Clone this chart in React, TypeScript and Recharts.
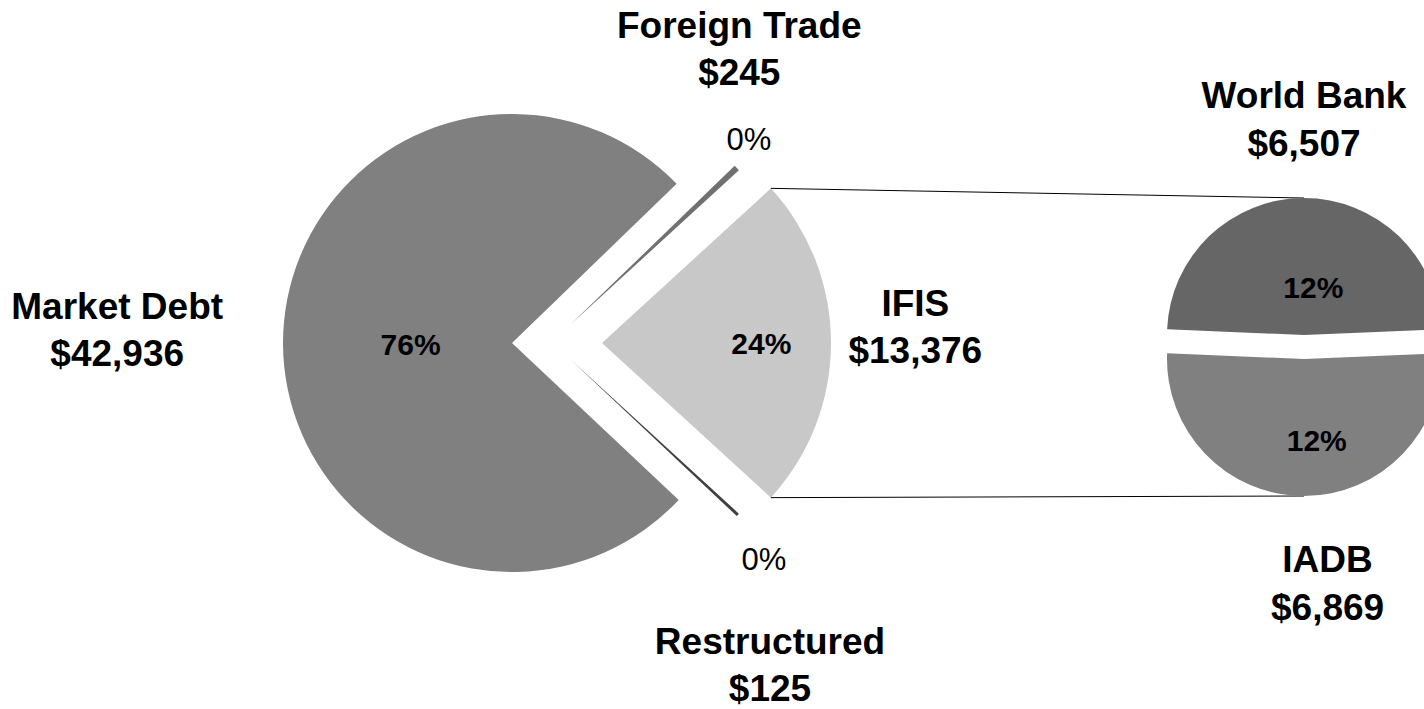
import React from 'react'
import { PieChart, Pie, Cell, Sector } from 'recharts'

// main pie, listed counter-clockwise starting with the slice that gets split out
const mainNames = ['IFIS', 'Foreign Trade', 'Market Debt', 'Restructured']
const mainValues = [13376, 245, 42936, 125]
const mainPctLabels = ['24%', '0%', '76%', '0%']

// the split-out pie (breakdown of IFIS)
const splitNames = ['World Bank', 'IADB']
const splitValues = [6507, 6869]
const splitPctLabels = ['12%', '12%']

const mainData = mainNames.map((name, i) => ({ name, value: mainValues[i], pct: mainPctLabels[i] }))
const splitData = splitNames.map((name, i) => ({ name, value: splitValues[i], pct: splitPctLabels[i] }))

const sum = (a: number[]) => a.reduce((s, v) => s + v, 0)
const mainStart = -(mainValues[0] / sum(mainValues)) * 180
const splitStart = 90 - (splitValues[0] / sum(splitValues)) * 180

const FONT = '"Liberation Sans", Arial, Helvetica, sans-serif'
const RAD = Math.PI / 180

const MAIN = { cx: 512, cy: 343, r: 229 }
const SPLIT = { cx: 1304, cy: 347, r: 137 }

const COLORS: Record<string, string> = {
  IFIS: '#c8c8c8',
  'Foreign Trade': '#707070',
  'Market Debt': '#808080',
  Restructured: '#404040',
  'World Bank': '#666666',
  IADB: '#808080',
}

// how far each slice is pulled out of its pie
const EXPLODE: Record<string, [number, number]> = {
  IFIS: [90, 0],
  'Foreign Trade': [58, -18],
  'Market Debt': [0, 0],
  Restructured: [58, 16],
  'World Bank': [0, -12],
  IADB: [0, 12],
}

// label spots, [radius factor, angle] from the slice apex
const LABEL_AT: Record<string, { pct: [number, number]; name: [number, number]; bold: boolean }> = {
  IFIS: { pct: [0.696, 0], name: [1.37, 3], bold: true },
  'Foreign Trade': { pct: [1.127, 46.1], name: [1.415, 58.5], bold: false },
  'Market Debt': { pct: [0.443, 180.7], name: [1.725, 178.1], bold: true },
  Restructured: { pct: [1.217, -45.9], name: [1.595, -56.8], bold: false },
  'World Bank': { pct: [0.357, 79], name: [1.575, 90], bold: true },
  IADB: { pct: [0.596, -81], name: [1.647, -84], bold: true },
}

const polar = (x: number, y: number, r: number, a: number): [number, number] => [
  x + r * Math.cos(a * RAD),
  y - r * Math.sin(a * RAD),
]

function ExplodedSector(props: any) {
  const name = props.payload?.name ?? props.name
  const [dx, dy] = EXPLODE[name] ?? [0, 0]
  const x = props.cx + dx
  const y = props.cy + dy
  const R = props.outerRadius
  const sector = (
    <Sector
      cx={x}
      cy={y}
      innerRadius={0}
      outerRadius={R}
      startAngle={props.startAngle}
      endAngle={props.endAngle}
      fill={COLORS[name]}
      stroke="none"
    />
  )
  if (name !== 'IFIS') return sector

  // connector lines from the split slice to the top / bottom of the second pie
  const [tx, ty] = polar(x, y, R, props.endAngle)
  const [bx, by] = polar(x, y, R, props.startAngle)
  const top = [SPLIT.cx + EXPLODE['World Bank'][0], SPLIT.cy + EXPLODE['World Bank'][1] - SPLIT.r]
  const bot = [SPLIT.cx + EXPLODE['IADB'][0], SPLIT.cy + EXPLODE['IADB'][1] + SPLIT.r]
  return (
    <g>
      {sector}
      <line x1={tx} y1={ty} x2={top[0]} y2={top[1]} stroke="#000" strokeWidth={1} />
      <line x1={bx} y1={by} x2={bot[0]} y2={bot[1]} stroke="#000" strokeWidth={1} />
    </g>
  )
}

function SliceLabel(props: any) {
  const name = props.payload?.name ?? props.name
  const value = props.payload?.value ?? props.value
  const pct = props.payload?.pct
  const [dx, dy] = EXPLODE[name] ?? [0, 0]
  const x0 = props.cx + dx
  const y0 = props.cy + dy
  const R = props.outerRadius
  const spot = LABEL_AT[name]
  const [px, py] = polar(x0, y0, R * spot.pct[0], spot.pct[1])
  const [nx, ny] = polar(x0, y0, R * spot.name[0], spot.name[1])
  return (
    <g>
      <text
        x={px}
        y={py + 11}
        textAnchor="middle"
        fontFamily={FONT}
        fontSize={spot.bold ? 30 : 31}
        fontWeight={spot.bold ? 'bold' : 'normal'}
        fill="#000"
      >
        {pct}
      </text>
      <text textAnchor="middle" fontFamily={FONT} fontSize={37} fontWeight="bold" fill="#000">
        <tspan x={nx} y={ny - 11}>{name}</tspan>
        <tspan x={nx} y={ny - 11 + 47.5}>{'$' + value.toLocaleString('en-US')}</tspan>
      </text>
    </g>
  )
}

export default function App() {
  return (
    <div style={{ position: 'absolute', left: 0, top: 0, background: '#fff' }}>
      <PieChart width={1424} height={709} margin={{ top: 0, right: 0, bottom: 0, left: 0 }}>
        <Pie
          data={mainData}
          dataKey="value"
          nameKey="name"
          cx={MAIN.cx}
          cy={MAIN.cy}
          outerRadius={MAIN.r}
          startAngle={mainStart}
          endAngle={mainStart + 360}
          stroke="none"
          shape={ExplodedSector}
          label={SliceLabel}
          labelLine={false}
          isAnimationActive={false}
        >
          {mainData.map((d) => (
            <Cell key={d.name} fill={COLORS[d.name]} />
          ))}
        </Pie>
        <Pie
          data={splitData}
          dataKey="value"
          nameKey="name"
          cx={SPLIT.cx}
          cy={SPLIT.cy}
          outerRadius={SPLIT.r}
          startAngle={splitStart}
          endAngle={splitStart + 360}
          stroke="none"
          shape={ExplodedSector}
          label={SliceLabel}
          labelLine={false}
          isAnimationActive={false}
        >
          {splitData.map((d) => (
            <Cell key={d.name} fill={COLORS[d.name]} />
          ))}
        </Pie>
      </PieChart>
    </div>
  )
}
